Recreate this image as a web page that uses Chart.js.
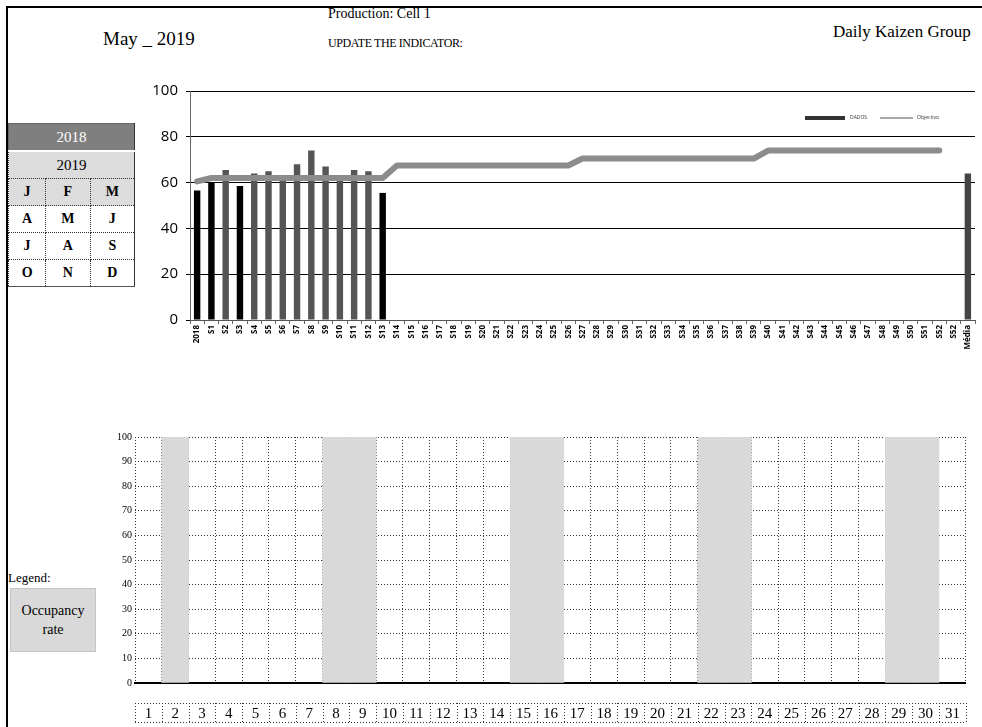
<!DOCTYPE html>
<html lang="en">
<head>
  <meta charset="UTF-8" />
  <title>Daily Kaizen Group - May 2019</title>
  <script src="https://cdn.jsdelivr.net/npm/chart.js"></script>
  <style>
    body { margin: 0; background: #fff; }
    .page {
      position: relative; width: 982px; height: 727px; overflow: hidden;
      font-family: "Liberation Serif", "DejaVu Serif", serif; color: #000;
    }
    .frame-left { position: absolute; left: 6px; top: 6px; width: 2px; height: 721px; background: #000; }
    .frame-top { position: absolute; left: 6px; top: 6px; width: 976px; height: 2px; background: #000; }
    .txt { position: absolute; white-space: nowrap; }
    .calendar {
      position: absolute; left: 8px; top: 123px; width: 127px;
      border-collapse: collapse; font-size: 14px; font-weight: bold; text-align: center;
    }
    .calendar td { height: 26px; padding: 0; border: 1px dotted #333; }
    .calendar td.y2018 { background: #7f7f7f; color: #fff; font-weight: normal; font-size: 15px; border: 1px solid #666; }
    .calendar td.y2019 { background: #dcdcdc; font-weight: normal; font-size: 15px; border-top: 2px solid #fff; }
    .calendar td.grey { background: #dcdcdc; }
    .calendar tr:last-child td { border-bottom: 1px solid #555; }
    .calendar td:last-child { border-right: 1px solid #333; }
    .legend-box {
      position: absolute; left: 10px; top: 588px; width: 84px; height: 62px;
      background: #d9d9d9; border: 1px solid #c4c4c4;
      display: flex; align-items: center; justify-content: center; text-align: center;
      font-size: 14px; line-height: 19px;
    }
    #topWrap { position: absolute; left: 140px; top: 74px; width: 842px; height: 286px; }
    #bottomWrap { position: absolute; left: 95px; top: 420px; width: 887px; height: 307px; }
  </style>
</head>
<body>
  <div class="page">
    <div class="frame-left"></div>
    <div class="frame-top"></div>

    <div class="txt" style="left:103px; top:28px; font-size:19px;">May _ 2019</div>
    <div class="txt" style="left:328px; top:6px; font-size:14px;">Production: Cell 1</div>
    <div class="txt" style="left:328px; top:36px; font-size:12px; letter-spacing:-0.4px;">UPDATE THE INDICATOR:</div>
    <div class="txt" style="left:833px; top:22px; font-size:17px;">Daily Kaizen Group</div>

    <table class="calendar">
      <tr><td colspan="3" class="y2018">2018</td></tr>
      <tr><td colspan="3" class="y2019">2019</td></tr>
      <tr><td class="grey">J</td><td class="grey">F</td><td class="grey">M</td></tr>
      <tr><td>A</td><td>M</td><td>J</td></tr>
      <tr><td>J</td><td>A</td><td>S</td></tr>
      <tr><td>O</td><td>N</td><td>D</td></tr>
    </table>

    <div class="txt" style="left:8px; top:570px; font-size:13px;">Legend:</div>
    <div class="legend-box">Occupancy<br>rate</div>

    <div id="topWrap"><canvas id="topChart"></canvas></div>
    <div id="bottomWrap"><canvas id="bottomChart"></canvas></div>
  </div>

  <script>
    // --- top chart data ---
    const weekLabels = [
      '2018', 'S1', 'S2', 'S3', 'S4', 'S5', 'S6', 'S7', 'S8', 'S9', 'S10',
      'S11', 'S12', 'S13', 'S14', 'S15', 'S16', 'S17', 'S18', 'S19', 'S20',
      'S21', 'S22', 'S23', 'S24', 'S25', 'S26', 'S27', 'S28', 'S29', 'S30',
      'S31', 'S32', 'S33', 'S34', 'S35', 'S36', 'S37', 'S38', 'S39', 'S40',
      'S41', 'S42', 'S43', 'S44', 'S45', 'S46', 'S47', 'S48', 'S49', 'S50',
      'S51', 'S52', 'S52', 'Média'
    ];
    const dados = [
      56.5, 60, 65.5, 58.5, 64, 65, 62, 68, 74, 67, 62, 65.5, 65, 55.5,
      null, null, null, null, null, null, null, null, null, null,
      null, null, null, null, null, null, null, null, null, null,
      null, null, null, null, null, null, null, null, null, null,
      null, null, null, null, null, null, null, null, null, null,
      64
    ];
    const objectivo = [
      60.5, 62, 62, 62, 62, 62, 62, 62, 62, 62, 62, 62, 62, 62,
      67.5, 67.5, 67.5, 67.5, 67.5, 67.5, 67.5, 67.5, 67.5, 67.5, 67.5, 67.5, 67.5,
      70.5, 70.5, 70.5, 70.5, 70.5, 70.5, 70.5, 70.5, 70.5, 70.5, 70.5, 70.5, 70.5,
      74, 74, 74, 74, 74, 74, 74, 74, 74, 74, 74, 74, 74,
      null, null
    ];
    const topTicks = [0, 20, 40, 60, 80, 100];

    // --- bottom chart data (days of May) ---
    const dayLabels = [
      '1', '2', '3', '4', '5', '6', '7', '8', '9', '10', '11', '12', '13', '14', '15', '16',
      '17', '18', '19', '20', '21', '22', '23', '24', '25', '26', '27', '28', '29', '30', '31'
    ];
    const shadedDays = [
      null, 100, null, null, null, null, null, 100, 100, null, null, null, null, null, 100, 100,
      null, null, null, null, null, 100, 100, null, null, null, null, null, 100, 100, null
    ];

    const sans = '"Open Sans", "Liberation Sans", sans-serif';
    const serif = '"Liberation Serif", "DejaVu Serif", serif';

    // small legend drawn inside the plot area (top right)
    const insideLegend = {
      id: 'insideLegend',
      afterDatasetsDraw(chart) {
        const { ctx, chartArea } = chart;
        const y = chartArea.top + 27;
        const x = chartArea.right - 170;
        ctx.save();
        ctx.fillStyle = '#333';
        ctx.fillRect(x, y - 2, 40, 4);
        ctx.font = '5px ' + sans;
        ctx.textBaseline = 'middle';
        ctx.fillText(chart.data.datasets[1].label, x + 45, y);
        ctx.strokeStyle = '#555';
        ctx.lineWidth = 1.2;
        ctx.beginPath();
        ctx.moveTo(x + 75, y);
        ctx.lineTo(x + 108, y);
        ctx.stroke();
        ctx.fillText(chart.data.datasets[0].label, x + 112, y);
        ctx.restore();
      }
    };

    new Chart(document.getElementById('topChart'), {
      type: 'bar',
      data: {
        labels: weekLabels,
        datasets: [
          {
            type: 'line',
            label: 'Objectivo',
            data: objectivo,
            borderColor: '#8c8c8c',
            borderWidth: 6,
            borderCapStyle: 'round',
            borderJoinStyle: 'round',
            pointRadius: 0,
            tension: 0,
            order: 0
          },
          {
            label: 'DADOS',
            data: dados,
            backgroundColor: dados.map((v, i) =>
              i === dados.length - 1 ? '#444' : (v < objectivo[i] ? '#000' : '#555')),
            barPercentage: 0.45,
            categoryPercentage: 1,
            order: 1
          }
        ]
      },
      options: {
        responsive: true,
        maintainAspectRatio: false,
        animation: false,
        layout: { padding: { top: 15, right: 7, left: 0, bottom: 0 } },
        plugins: { legend: { display: false }, tooltip: { enabled: false } },
        scales: {
          x: {
            afterFit: s => { s.height = 40; },
            grid: { drawOnChartArea: false, color: '#666', tickLength: 4 },
            border: { color: '#555' },
            ticks: {
              autoSkip: false, minRotation: 90, maxRotation: 90, padding: 1,
              color: '#000', font: { family: sans, size: 8, weight: 'bold' }
            }
          },
          y: {
            min: 0, max: 100,
            afterFit: s => { s.width = 50; },
            afterBuildTicks: s => { s.ticks = topTicks.map(v => ({ value: v })); },
            grid: { color: '#000', lineWidth: 1, tickLength: 4 },
            border: { color: '#666' },
            ticks: { padding: 8, color: '#000', font: { family: sans, size: 15 } }
          }
        }
      },
      plugins: [insideLegend]
    });

    // dotted boxes around the day numbers
    const dayBoxes = {
      id: 'dayBoxes',
      afterDraw(chart) {
        const { ctx, chartArea } = chart;
        const xs = chart.scales.x;
        const w = (chartArea.right - chartArea.left) / dayLabels.length;
        const top = chartArea.bottom + 20;
        const bottom = chartArea.bottom + 39;
        ctx.save();
        ctx.strokeStyle = '#333';
        ctx.lineWidth = 1;
        ctx.setLineDash([1, 2]);
        ctx.beginPath();
        ctx.moveTo(chartArea.left, top + 0.5);
        ctx.lineTo(chartArea.right, top + 0.5);
        ctx.moveTo(chartArea.left, bottom + 0.5);
        ctx.lineTo(chartArea.right, bottom + 0.5);
        for (let i = 0; i <= dayLabels.length; i++) {
          const x = Math.round(xs.getPixelForTick(0) - w / 2 + i * w) + 0.5;
          ctx.moveTo(x, top);
          ctx.lineTo(x, bottom);
        }
        ctx.stroke();
        ctx.restore();
      }
    };

    new Chart(document.getElementById('bottomChart'), {
      type: 'bar',
      data: {
        labels: dayLabels,
        datasets: [{
          label: 'Occupancy rate',
          data: shadedDays,
          backgroundColor: '#d9d9d9',
          barPercentage: 1,
          categoryPercentage: 1
        }]
      },
      options: {
        responsive: true,
        maintainAspectRatio: false,
        animation: false,
        layout: { padding: { top: 17, right: 7, left: 0, bottom: 0 } },
        plugins: { legend: { display: false }, tooltip: { enabled: false } },
        scales: {
          x: {
            z: 1,
            afterFit: s => { s.height = 44; },
            grid: { color: '#333', lineWidth: 1, drawTicks: false },
            border: { color: '#000', width: 2, dash: [1, 2] },
            ticks: { padding: 22, color: '#000', font: { family: serif, size: 15 } }
          },
          y: {
            z: 1,
            min: 0, max: 100,
            afterFit: s => { s.width = 40; },
            grid: { color: '#333', lineWidth: 1, drawTicks: false },
            border: { display: false, dash: [1, 2] },
            ticks: { stepSize: 10, padding: 3, color: '#000', font: { family: serif, size: 10 } }
          }
        }
      },
      plugins: [dayBoxes]
    });
  </script>
</body>
</html>
